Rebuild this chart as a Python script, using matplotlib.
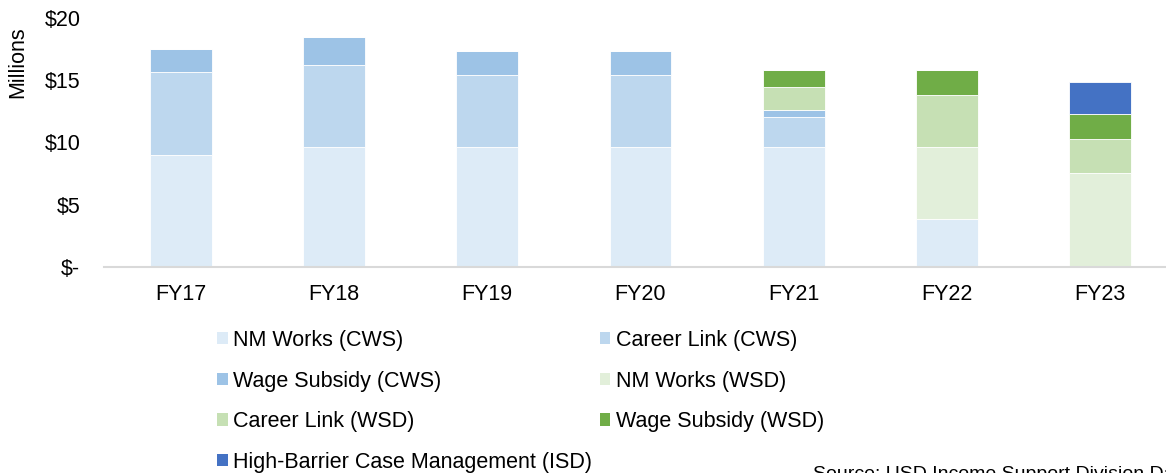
import matplotlib.pyplot as plt
import numpy as np
from matplotlib.patches import Patch
from matplotlib.ticker import FuncFormatter

plt.rcParams['font.family'] = ['Liberation Sans', 'DejaVu Sans']

years = ['FY17', 'FY18', 'FY19', 'FY20', 'FY21', 'FY22', 'FY23']

# значения в млн долларов, снизу вверх по стопке
nm_works_cws = [9.0, 9.64, 9.64, 9.64, 9.64, 3.83, 0.0]
career_link_cws = [6.66, 6.6, 5.8, 5.8, 2.4, 0.0, 0.0]
wage_subsidy_cws = [1.85, 2.2, 1.9, 1.9, 0.56, 0.0, 0.0]
nm_works_wsd = [0.0, 0.0, 0.0, 0.0, 0.0, 5.8, 7.58]
career_link_wsd = [0.0, 0.0, 0.0, 0.0, 1.85, 4.18, 2.72]
wage_subsidy_wsd = [0.0, 0.0, 0.0, 0.0, 1.37, 2.0, 2.0]
high_barrier_isd = [0.0, 0.0, 0.0, 0.0, 0.0, 0.0, 2.56]

series = [
    ('NM Works (CWS)', nm_works_cws, '#DDEBF7'),
    ('Career Link (CWS)', career_link_cws, '#BDD7EE'),
    ('Wage Subsidy (CWS)', wage_subsidy_cws, '#9DC3E6'),
    ('NM Works (WSD)', nm_works_wsd, '#E2EFDA'),
    ('Career Link (WSD)', career_link_wsd, '#C6E0B4'),
    ('Wage Subsidy (WSD)', wage_subsidy_wsd, '#70AD47'),
    ('High-Barrier Case Management (ISD)', high_barrier_isd, '#4472C4'),
]

FS = 15.5

fig = plt.figure(figsize=(11.66, 4.73), dpi=100)
ax = fig.add_axes([104 / 1166, 1 - 267 / 473, 1073 / 1166, 249 / 473])

x = np.arange(len(years))
bottom = np.zeros(len(years))
for name, vals, color in series:
    vals = np.array(vals)
    ax.bar(x, vals, 0.404, bottom=bottom, color=color, edgecolor='white', linewidth=0.6)
    bottom += vals

ax.set_xlim(-0.5, 6.5)
ax.set_ylim(0, 20)
ax.set_yticks([0, 5, 10, 15, 20])
ax.yaxis.set_major_formatter(FuncFormatter(lambda v, p: '$-' if v == 0 else f'${v:.0f}'))
ax.set_xticks(x)
ax.set_xticklabels(years)
ax.tick_params(axis='both', length=0, labelsize=FS, colors='black')
ax.tick_params(axis='y', pad=17)
ax.tick_params(axis='x', pad=12)
for s in ['top', 'right', 'left']:
    ax.spines[s].set_visible(False)
ax.spines['bottom'].set_color('#D9D9D9')
ax.spines['bottom'].set_linewidth(1.5)

fig.text(18 / 1166, 1 - 62 / 473, 'Millions', rotation=90, ha='center', va='center', fontsize=FS)

# легенда в две колонки, порядок как у Excel (по строкам)
handles = [Patch(facecolor=c, edgecolor='none') for _, _, c in series]
labels = [n for n, _, _ in series]
order = [0, 2, 4, 6, 1, 3, 5]
fig.legend([handles[i] for i in order], [labels[i] for i in order],
           ncol=2, loc='upper left', bbox_to_anchor=(217 / 1166, 1 - 330 / 473),
           frameon=False, fontsize=FS, handlelength=0.5, handleheight=0.5,
           handletextpad=0.25, columnspacing=0.35, labelspacing=0.91,
           borderaxespad=0, borderpad=0)

fig.text(813 / 1166, 1 - 466 / 473, 'Source: USD Income Support Division Data',
         ha='left', va='top', fontsize=14)

fig.savefig('out.png', dpi=100)
